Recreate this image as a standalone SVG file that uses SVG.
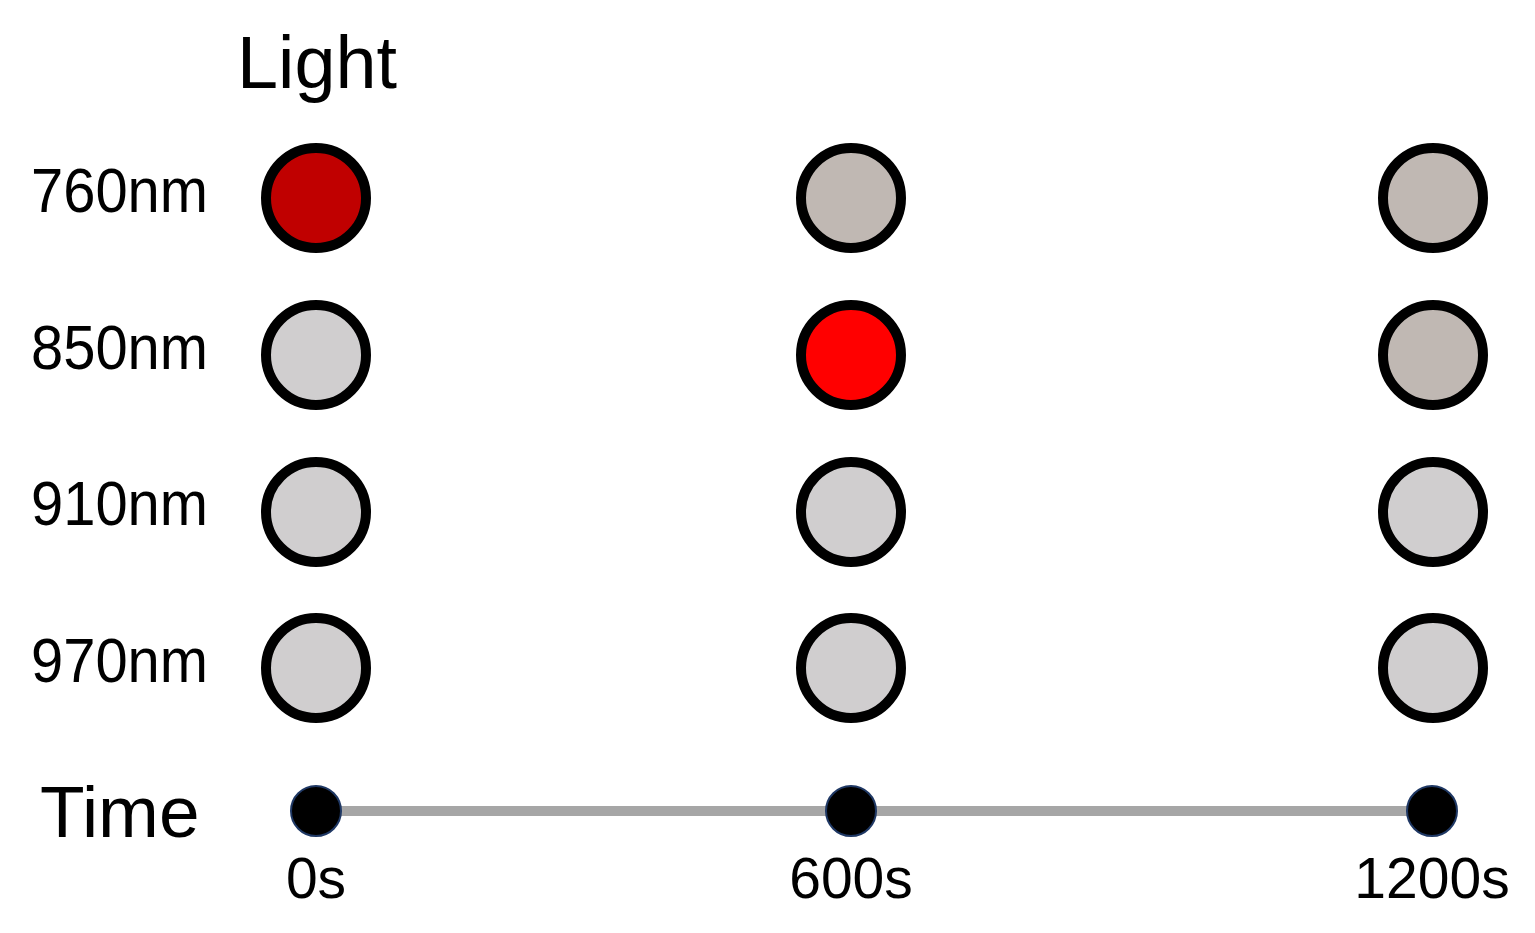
<svg xmlns="http://www.w3.org/2000/svg" width="1535" height="933" viewBox="0 0 1535 933">
<style>
.t{font-family:"Liberation Sans",Arial,sans-serif;fill:#000}
.lbl{font-size:63px}
.tick{font-size:57px;text-anchor:middle}
.led{stroke:#000;stroke-width:10}
.off{fill:#d0cecf}
.dim{fill:#c0b8b3}
.dot{fill:#000;stroke:#1f3864;stroke-width:2}
</style>
<rect width="1535" height="933" fill="#fff"/>
<text class="t" x="237" y="88" font-size="75" textLength="160" lengthAdjust="spacingAndGlyphs">Light</text>
<g id="labels">
<text class="t lbl" x="31" y="212" textLength="177" lengthAdjust="spacingAndGlyphs">760nm</text>
<text class="t lbl" x="31" y="369" textLength="177" lengthAdjust="spacingAndGlyphs">850nm</text>
<text class="t lbl" x="31" y="525" textLength="177" lengthAdjust="spacingAndGlyphs">910nm</text>
<text class="t lbl" x="31" y="682" textLength="177" lengthAdjust="spacingAndGlyphs">970nm</text>
</g>
<g id="col0">
<circle class="led" cx="316" cy="198" r="50" fill="#c00000"/>
<circle class="led off" cx="316" cy="355" r="50"/>
<circle class="led off" cx="316" cy="512" r="50"/>
<circle class="led off" cx="316" cy="668" r="50"/>
</g>
<g id="col600">
<circle class="led dim" cx="851" cy="198" r="50"/>
<circle class="led" cx="851" cy="355" r="50" fill="#ff0000"/>
<circle class="led off" cx="851" cy="512" r="50"/>
<circle class="led off" cx="851" cy="668" r="50"/>
</g>
<g id="col1200">
<circle class="led dim" cx="1433" cy="198" r="50"/>
<circle class="led dim" cx="1433" cy="355" r="50"/>
<circle class="led off" cx="1433" cy="512" r="50"/>
<circle class="led off" cx="1433" cy="668" r="50"/>
</g>
<g id="timeline">
<line x1="316" y1="811" x2="1432" y2="811" stroke="#a6a6a6" stroke-width="10"/>
<circle class="dot" cx="316" cy="811" r="25"/>
<circle class="dot" cx="851" cy="811" r="25"/>
<circle class="dot" cx="1432" cy="811" r="25"/>
</g>
<text class="t" x="40" y="837" font-size="73">Time</text>
<text class="t tick" x="316" y="898">0s</text>
<text class="t tick" x="851" y="898">600s</text>
<text class="t tick" x="1432" y="898">1200s</text>
</svg>
